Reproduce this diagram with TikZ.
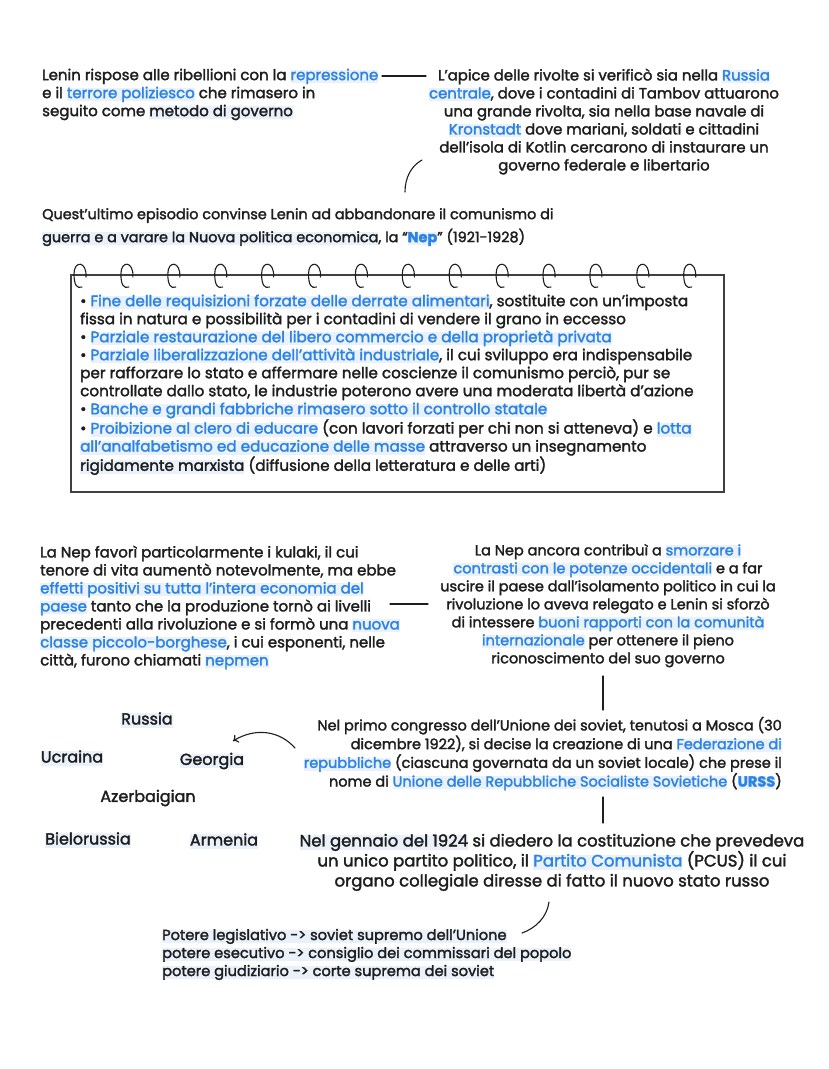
\documentclass[tikz,border=0pt]{standalone}
\usepackage{fontspec}
\setmainfont{Poppins}[FakeBold=2]
\usetikzlibrary{arrows.meta,calc}
\definecolor{ink}{HTML}{1E1E1E}
\definecolor{blu}{HTML}{2A83E6}
\definecolor{hlc}{HTML}{EAF1FA}
\newlength\hlw
\newcommand{\hlk}[1]{\settowidth{\hlw}{#1}\rlap{\textcolor{hlc}{\rule[-0.2em]{\hlw}{0.9em}}}#1}
\newcommand{\bl}[1]{\hlk{\textcolor{blu}{#1}}}
\begin{document}
\begin{tikzpicture}[x=1pt,y=-1pt,
  txt/.style={inner sep=0pt, text=ink, font=\fontsize{15}{18}\selectfont},
  conn/.style={draw=ink, line width=1.1pt, line cap=round},
  notebox/.style={draw=ink!85, line width=1.6pt},
  spiral/.style={draw=ink, line width=1.1pt, line cap=round}]
\fill[white] (0,0) rectangle (828,1069);
\useasboundingbox (0,0) rectangle (828,1069);

\node[txt, align=left, anchor=north west] (b1) at (42,68.5)
 {Lenin rispose alle ribellioni con la \bl{repressione}\\
  e il \bl{terrore poliziesco} che rimasero in\\
  seguito come \hlk{metodo di governo}};

\node[txt, font=\fontsize{14.9}{18}\selectfont, align=center, anchor=north] (b2) at (604,68.5)
 {L'apice delle rivolte si verificò sia nella \bl{Russia}\\
  \bl{centrale}, dove i contadini di Tambov attuarono\\
  una grande rivolta, sia nella base navale di\\
  \bl{Kronstadt} dove mariani, soldati e cittadini\\
  dell'isola di Kotlin cercarono di instaurare un\\
  governo federale e libertario};

\coordinate (c1a) at (382,76);
\coordinate (c1b) at (426,76);
\draw[conn] (c1a) -- (c1b);

\node[txt, font=\fontsize{14.4}{18}\selectfont, align=left, anchor=north west] (b3) at (42,208)
 {Quest'ultimo episodio convinse Lenin ad abbandonare il comunismo di\\[5pt]
  \hlk{guerra e a varare la Nuova politica economica}, la “\textbf{\bl{Nep}}” (1921-1928)};

\coordinate (c2a) at (405,192);
\coordinate (c2b) at (422,160);
\draw[conn] (c2a) .. controls (405,178) and (411,166) .. (c2b);

% notebook box
\node[notebox, minimum width=653pt, minimum height=217pt, anchor=north west] (box) at (70,274) {};
\foreach \i in {0,...,13}{
  \pgfmathsetmacro{\sx}{80+46.9*\i}
  \draw[spiral] (\sx+6,277) .. controls (\sx+7,261) and (\sx-6,260) .. (\sx-6,274)
     .. controls (\sx-6,285) and (\sx-3,289) .. (\sx+2,287);
}
\node[txt, font=\fontsize{15.2}{18}\selectfont, align=left, anchor=north west] (bt) at (80,294.4)
 {• \bl{Fine delle requisizioni forzate delle derrate alimentari}, sostituite con un'imposta\\
  fissa in natura e possibilità per i contadini di vendere il grano in eccesso\\
  • \bl{Parziale restaurazione del libero commercio e della proprietà privata}\\
  • \bl{Parziale liberalizzazione dell'attività industriale}, il cui sviluppo era indispensabile\\
  per rafforzare lo stato e affermare nelle coscienze il comunismo perciò, pur se\\
  controllate dallo stato, le industrie poterono avere una moderata libertà d'azione\\
  • \bl{Banche e grandi fabbriche rimasero sotto il controllo statale}\\
  • \bl{Proibizione al clero di educare} (con lavori forzati per chi non si atteneva) e \bl{lotta}\\
  \bl{all'analfabetismo ed educazione delle masse} attraverso un insegnamento\\
  \hlk{rigidamente marxista} (diffusione della letteratura e delle arti)};

\node[txt, align=left, anchor=north west] (b4) at (40,545.5)
 {La Nep favorì particolarmente i kulaki, il cui\\
  tenore di vita aumentò notevolmente, ma ebbe\\
  \bl{effetti positivi su tutta l'intera economia del}\\
  \bl{paese} tanto che la produzione tornò ai livelli\\
  precedenti alla rivoluzione e si formò una \bl{nuova}\\
  \bl{classe piccolo-borghese}, i cui esponenti, nelle\\
  città, furono chiamati \bl{nepmen}};

\node[txt, font=\fontsize{14.5}{18}\selectfont, align=center, anchor=north] (b5) at (608,543.8)
 {La Nep ancora contribuì a \bl{smorzare i}\\
  \bl{contrasti con le potenze occidentali} e a far\\
  uscire il paese dall'isolamento politico in cui la\\
  rivoluzione lo aveva relegato e Lenin si sforzò\\
  di intessere \bl{buoni rapporti con la comunità}\\
  \bl{internazionale} per ottenere il pieno\\
  riconoscimento del suo governo};

\coordinate (c3a) at (390,604);
\coordinate (c3b) at (428,604);
\draw[conn] (c3a) -- (c3b);

\coordinate (c4a) at (603,676);
\coordinate (c4b) at (603,710);
\draw[conn] (c4a) -- (c4b);

\node[txt, font=\fontsize{14.5}{18.7}\selectfont, align=right, anchor=north east] (b6) at (782,716.7)
 {Nel primo congresso dell'Unione dei soviet, tenutosi a Mosca (30\\
  dicembre 1922), si decise la creazione di una \bl{Federazione di}\\
  \bl{repubbliche} (ciascuna governata da un soviet locale) che prese il\\
  nome di \bl{Unione delle Repubbliche Socialiste Sovietiche} (\textbf{\bl{URSS}})};

\begin{scope}[every node/.style={txt, font=\fontsize{16}{18}\selectfont}]
\node (russia) at (147,720) {\hlk{Russia}};
\node (ucraina) at (72,758) {\hlk{Ucraina}};
\node (georgia) at (212,761) {\hlk{Georgia}};
\node (azer) at (148,798) {Azerbaigian};
\node (bielo) at (88,840) {\hlk{Bielorussia}};
\node (armenia) at (224,841) {\hlk{Armenia}};
\end{scope}

\coordinate (c5a) at (295,748);
\coordinate (c5b) at (233,741);
\draw[conn, -{To[length=5pt,width=9pt]}] (c5a) .. controls (280,731) and (256,727) .. (c5b);

\coordinate (c6a) at (603,797);
\coordinate (c6b) at (603,823);
\draw[conn] (c6a) -- (c6b);

\node[txt, font=\fontsize{16.5}{20}\selectfont, align=center, anchor=north] (b7) at (552,833.7)
 {\hlk{Nel gennaio del 1924} si diedero la costituzione che prevedeva\\
  un unico partito politico, il \bl{Partito Comunista} (PCUS) il cui\\
  organo collegiale diresse di fatto il nuovo stato russo};

\coordinate (c7a) at (549,902);
\coordinate (c7b) at (522,933);
\draw[conn] (c7a) .. controls (547,917) and (536,928) .. (c7b);

\node[txt, font=\fontsize{14.6}{18}\selectfont, align=left, anchor=north west] (b8) at (162,928.7)
 {\hlk{Potere legislativo -> soviet supremo dell'Unione}\\
  \hlk{potere esecutivo -> consiglio dei commissari del popolo}\\
  \hlk{potere giudiziario -> corte suprema dei soviet}};
\end{tikzpicture}
\end{document}
